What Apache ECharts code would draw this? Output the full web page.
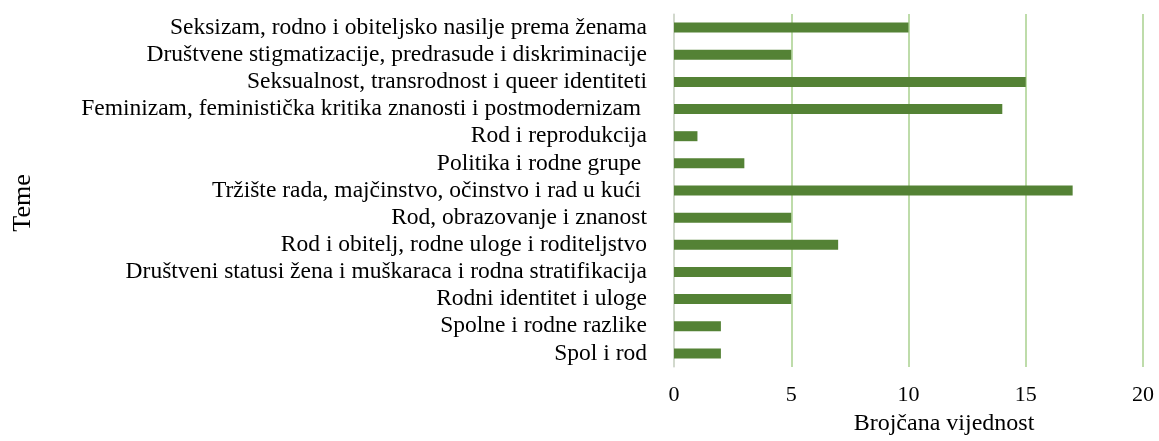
<!DOCTYPE html>
<html><head><meta charset="utf-8">
<script src="https://cdn.jsdelivr.net/npm/echarts@6/dist/echarts.min.js"></script>
<style>html,body{margin:0;padding:0;background:#fff}#c{width:1159px;height:441px}</style>
</head><body><div id="c"></div>
<script>
// Categories listed bottom to top
const categories = [
  "Spol i rod",
  "Spolne i rodne razlike",
  "Rodni identitet i uloge",
  "Društveni statusi žena i muškaraca i rodna stratifikacija",
  "Rod i obitelj, rodne uloge i roditeljstvo",
  "Rod, obrazovanje i znanost",
  "Tržište rada, majčinstvo, očinstvo i rad u kući ",
  "Politika i rodne grupe ",
  "Rod i reprodukcija",
  "Feminizam, feministička kritika znanosti i postmodernizam ",
  "Seksualnost, transrodnost i queer identiteti",
  "Društvene stigmatizacije, predrasude i diskriminacije",
  "Seksizam, rodno i obiteljsko nasilje prema ženama"
];
const values = [2, 2, 5, 5, 7, 5, 17, 3, 1, 14, 15, 5, 10];
const xTicks = [0, 5, 10, 15, 20];
const xTitle = "Brojčana vijednost";
const yTitle = "Teme";

const font = "'Liberation Serif', 'Times New Roman', serif";
const chart = echarts.init(document.getElementById('c'), null, {renderer: 'canvas'});
chart.setOption({
  animation: false,
  backgroundColor: '#fff',
  grid: {left: 674, right: 16, top: 14, bottom: 70, containLabel: false},
  xAxis: {
    type: 'value', min: xTicks[0], max: xTicks[xTicks.length - 1], interval: 5,
    axisLine: {show: false}, axisTick: {show: false},
    splitLine: {show: true, lineStyle: {color: '#A9D18E', width: 1.5}},
    axisLabel: {color: '#000', fontFamily: font, fontSize: 22, margin: 17,
      formatter: v => xTicks.includes(v) ? String(v) : ''},
    name: xTitle, nameLocation: 'middle', nameGap: 45,
    nameTextStyle: {color: '#000', fontFamily: font, fontSize: 24, padding: [0, 0, 0, 71]}
  },
  yAxis: {
    type: 'category', data: categories,
    axisLine: {show: true, lineStyle: {color: '#D9D9D9', width: 1.5}},
    axisTick: {show: false},
    axisLabel: {color: '#000', fontFamily: font, fontSize: 23.5, margin: 27, interval: 0},
    name: yTitle, nameLocation: 'middle', nameGap: 638, nameRotate: 90,
    nameTextStyle: {color: '#000', fontFamily: font, fontSize: 26, padding: [0, 25, 0, 0]}
  },
  series: [{
    type: 'bar', data: values, barWidth: 10,
    itemStyle: {color: '#548235'}
  }]
});
</script></body></html>
